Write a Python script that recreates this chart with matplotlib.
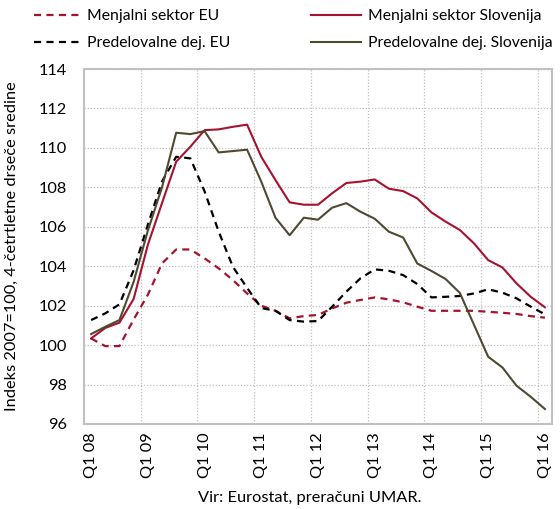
import numpy as np
import matplotlib
matplotlib.use("Agg")
from matplotlib import pyplot as plt

# kvartali Q1 08 .. Q1 16
quarters = [f"Q{q} {y:02d}" for y in range(8, 16) for q in range(1, 5)] + ["Q1 16"]

menjalni_eu = [100.34, 99.95, 99.95, 101.3, 102.55, 104.14, 104.85, 104.85, 104.4, 103.89,
               103.3, 102.62, 102.0, 101.74, 101.36, 101.47, 101.53, 101.86, 102.15, 102.29,
               102.42, 102.32, 102.17, 101.95, 101.74, 101.74, 101.74, 101.74, 101.69, 101.64,
               101.58, 101.47, 101.39]
menjalni_slo = [100.34, 100.87, 101.14, 102.34, 105.08, 107.2, 109.3, 110.06, 110.9, 110.94,
                111.07, 111.18, 109.55, 108.37, 107.24, 107.12, 107.12, 107.7, 108.22, 108.29,
                108.4, 107.93, 107.81, 107.44, 106.73, 106.26, 105.84, 105.16, 104.31, 103.94,
                103.13, 102.45, 101.92]
predel_eu = [101.27, 101.61, 102.07, 103.8, 106.1, 108.3, 109.55, 109.47, 107.8, 105.75,
             103.97, 102.9, 101.88, 101.74, 101.27, 101.19, 101.22, 101.95, 102.71, 103.39,
             103.84, 103.77, 103.55, 103.1, 102.42, 102.45, 102.49, 102.62, 102.83, 102.66,
             102.37, 101.95, 101.56]
predel_slo = [100.56, 100.93, 101.27, 103.21, 105.8, 108.0, 110.77, 110.7, 110.85, 109.77,
              109.84, 109.91, 108.29, 106.46, 105.57, 106.46, 106.36, 106.97, 107.2, 106.76,
              106.41, 105.75, 105.46, 104.14, 103.76, 103.35, 102.65, 101.03, 99.41, 98.87,
              97.94, 97.38, 96.76]

red = "#a6122d"
olive = "#4e4930"
grey = "#c0c0c0"
fs = 11.8

plt.rcParams['font.family'] = ['Lato', 'DejaVu Sans']

fig = plt.figure(figsize=(5.6, 5.09), dpi=100)
ax = fig.add_axes([0.15, 0.167, 0.8357, 0.6974])

x = np.arange(len(quarters))
l1, = ax.plot(x, menjalni_eu, color=red, lw=1.6, ls=(0, (3.2, 2.4)), label="Menjalni sektor EU")
l2, = ax.plot(x, predel_eu, color="black", lw=1.6, ls=(0, (3.2, 2.4)), label="Predelovalne dej. EU")
l3, = ax.plot(x, menjalni_slo, color=red, lw=1.5, label="Menjalni sektor Slovenija")
l4, = ax.plot(x, predel_slo, color=olive, lw=1.5, label="Predelovalne dej. Slovenija")

ax.set_xlim(-0.5, len(quarters) - 0.5)
ax.set_ylim(96, 114)
ax.set_yticks(np.arange(96, 115, 2))
ax.set_xticks(x[::4])
ax.set_xticklabels(quarters[::4], rotation=90, fontsize=fs)
ax.set_xticks(np.arange(3.5, len(quarters) - 1, 4), minor=True)
ax.tick_params(axis='both', which='both', length=0)
ax.tick_params(axis='y', labelsize=fs, pad=12)
ax.tick_params(axis='x', pad=6)

ax.grid(False)
ax.yaxis.grid(True, color=grey, ls=(0, (1, 1.5)), lw=0.9)
ax.xaxis.grid(True, which='minor', color=grey, ls=(0, (1, 1.5)), lw=0.9)
for s in ax.spines.values():
    s.set_color(grey)
    s.set_linewidth(1.5)

ax.set_ylabel("Indeks 2007=100, 4-četrtletne drseče sredine", fontsize=fs)
ax.yaxis.set_label_coords(-0.139, 0.5)

leg_kw = dict(frameon=False, fontsize=11.3, loc="upper left", borderpad=0,
              borderaxespad=0, handletextpad=0.4, labelspacing=0.85)
fig.legend(handles=[l1, l2], bbox_to_anchor=(34 / 560, 1 - 9 / 509),
           handlelength=3.0, **leg_kw)
fig.legend(handles=[l3, l4], bbox_to_anchor=(311 / 560, 1 - 9 / 509),
           handlelength=3.2, **leg_kw)

fig.text(0.553, 0.022, "Vir: Eurostat, preračuni UMAR.", ha="center", va="center", fontsize=fs)

fig.savefig("out.png", dpi=100)
